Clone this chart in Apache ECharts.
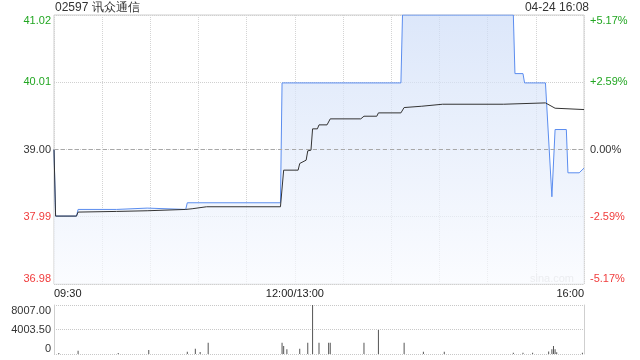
<!DOCTYPE html>
<html><head><meta charset="utf-8">
<script src="https://cdn.jsdelivr.net/npm/echarts@6/dist/echarts.min.js"></script>
<style>html,body{margin:0;padding:0;background:#fff}#c{width:640px;height:360px}</style>
</head><body><div id="c"></div>
<script>
// ---- text / tick labels ----
const titleText = '02597 讯众通信';
const stampText = '04-24 16:08';
const watermark = 'sina.com';
const prevClose = 39.00;
const priceMin = 36.98, priceMax = 41.02, priceStep = 1.01;
const priceTicks = ['36.98', '37.99', '39.00', '40.01', '41.02'];
const pctTicks = ['-5.17%', '-2.59%', '0.00%', '+2.59%', '+5.17%'];
const volMax = 8007, volStep = 4003.5;
const volTicks = ['0', '4003.50', '8007.00'];
const midLabel = '12:00/13:00';

// ---- minute categories (09:30-12:00, 13:01-16:00) ----
function pad(n){ return (n < 10 ? '0' : '') + n; }
const minutes = [];
for (let t = 9 * 60 + 30; t <= 12 * 60; t++) minutes.push(pad(Math.floor(t / 60)) + ':' + pad(t % 60));
for (let t = 13 * 60 + 1; t <= 16 * 60; t++) minutes.push(pad(Math.floor(t / 60)) + ':' + pad(t % 60));

// ---- price line ----
const priceTimes = ['09:30','09:31','09:44','09:45','10:09','10:10','10:28','10:29','10:52','10:53','11:51','11:52','14:06','14:07','15:16','15:17','15:22','15:23','15:36','15:40','15:42','15:49','15:50','15:57','16:00'];
const priceValues = [39.00,38.00,38.00,38.10,38.10,38.12,38.12,38.10,38.10,38.20,38.20,40.00,40.00,41.02,41.02,40.14,40.14,40.00,40.00,38.29,39.30,39.30,38.65,38.65,38.72];

// ---- average price line ----
const avgTimes = ['09:30','09:31','09:44','09:45','10:09','10:28','10:52','10:56','11:05','11:51','11:53','13:02','13:03','13:07','13:08','13:10','13:11','13:14','13:15','13:20','13:22','13:41','13:43','13:51','13:52','14:06','14:08','14:19','14:32','15:10','15:11','15:36','15:42','16:00'];
const avgValues = [39.00,38.00,38.00,38.06,38.07,38.08,38.10,38.11,38.14,38.14,38.69,38.69,38.79,38.84,38.98,38.99,39.31,39.31,39.37,39.37,39.46,39.46,39.50,39.50,39.55,39.55,39.63,39.65,39.68,39.68,39.70,39.70,39.62,39.60];

// ---- volume ----
const volTimes = ['09:33','09:45','10:10','10:29','10:53','10:58','11:01','11:06','11:52','11:53','11:55','13:03','13:08','13:11','13:15','13:21','13:22','13:43','13:52','14:08','14:20','14:33','15:16','15:22','15:28','15:38','15:40','15:41','15:42','15:43','15:59'];
const volValues = [150,540,150,650,380,870,320,1850,1850,1300,760,870,1850,8007,1850,1850,1850,1850,3920,1850,380,380,200,200,200,400,760,1300,760,300,200];

const zip = (a, b) => a.map((t, i) => [t, b[i]]);
const GREEN = '#22a622', RED = '#f03c3c', DARK = '#333';
const FONT = "'Liberation Sans', Arial, sans-serif";

const chart = echarts.init(document.getElementById('c'), null, {renderer: 'canvas'});
chart.setOption({
  animation: false,
  textStyle: {fontFamily: FONT},
  grid: [
    {left: 54, right: 56, top: 15, bottom: 76, show: true, borderColor: '#cfcfcf', borderWidth: 1, backgroundColor: 'transparent'},
    {left: 54, right: 56, top: 305, bottom: 6}
  ],
  graphic: [
    {type: 'text', left: 55, top: 2, style: {text: titleText, fill: DARK, font: '12px ' + FONT}},
    {type: 'text', right: 51, top: 2, style: {text: stampText, fill: DARK, font: '12px ' + FONT}},
    {type: 'text', right: 66, top: 273, style: {text: watermark, fill: '#d0d0d0', font: '11px ' + FONT}}
  ],
  xAxis: [
    {type: 'category', gridIndex: 0, data: minutes, boundaryGap: false,
     axisLine: {show: false}, axisTick: {show: false},
     axisLabel: {interval: (i) => i === 0 || i === 150 || i === minutes.length - 1,
       formatter: v => v === '12:00' ? midLabel : v, color: '#222', fontSize: 11, margin: 4,
       alignMinLabel: 'left', alignMaxLabel: 'right'},
     splitLine: {show: true, interval: (i) => i % 30 === 0, lineStyle: {color: '#d4d4d4', type: 'dotted', width: 1}}},
    {type: 'category', gridIndex: 1, data: minutes, boundaryGap: false,
     axisLine: {show: false}, axisTick: {show: false}, axisLabel: {show: false}, splitLine: {show: false}}
  ],
  yAxis: [
    {type: 'value', gridIndex: 0, min: priceMin, max: priceMax, interval: priceStep, position: 'left',
     axisLine: {show: false}, axisTick: {show: false},
     axisLabel: {fontSize: 11, margin: 3,
       formatter: (v, i) => '{c' + i + '|' + priceTicks[i] + '}',
       rich: {c0: {color: RED}, c1: {color: RED}, c2: {color: DARK}, c3: {color: GREEN}, c4: {color: GREEN}},
       verticalAlignMinLabel: 'bottom', verticalAlignMaxLabel: 'top'},
     splitLine: {show: true, lineStyle: {color: '#d0d0d0', type: 'dotted'}}},
    {type: 'value', gridIndex: 0, min: priceMin, max: priceMax, interval: priceStep, position: 'right',
     axisLine: {show: false}, axisTick: {show: false},
     axisLabel: {fontSize: 11, margin: 6,
       formatter: (v, i) => '{c' + i + '|' + pctTicks[i] + '}',
       rich: {c0: {color: RED}, c1: {color: RED}, c2: {color: DARK}, c3: {color: GREEN}, c4: {color: GREEN}},
       verticalAlignMinLabel: 'bottom', verticalAlignMaxLabel: 'top'},
     splitLine: {show: false}},
    {type: 'value', gridIndex: 1, min: 0, max: volMax, interval: volStep, position: 'left',
     axisLine: {show: true, lineStyle: {color: '#cfcfcf'}}, axisTick: {show: false},
     axisLabel: {fontSize: 11, margin: 3, color: DARK, formatter: (v, i) => volTicks[i],
       verticalAlignMinLabel: 'bottom', verticalAlignMaxLabel: 'top'},
     splitLine: {show: true, lineStyle: {color: '#c8c8c8', type: 'dotted'}}},
    {type: 'value', gridIndex: 1, min: 0, max: volMax, interval: volStep, position: 'right',
     axisLine: {show: true, lineStyle: {color: '#cfcfcf'}}, axisTick: {show: false},
     axisLabel: {show: false}, splitLine: {show: false}}
  ],
  series: [
    {type: 'line', xAxisIndex: 0, yAxisIndex: 0, data: zip(priceTimes, priceValues),
     symbol: 'none', lineStyle: {color: '#5b8def', width: 1},
     areaStyle: {origin: 'start', color: {type: 'linear', x: 0, y: 0, x2: 0, y2: 1,
       colorStops: [{offset: 0, color: '#cddcf7'}, {offset: 1, color: '#f8fafe'}]}},
     markLine: {silent: true, symbol: 'none', label: {show: false},
       lineStyle: {color: '#a8a8a8', type: [4, 3], width: 1}, data: [{yAxis: prevClose}]},
     z: 3},
    {type: 'line', xAxisIndex: 0, yAxisIndex: 0, data: zip(avgTimes, avgValues),
     symbol: 'none', lineStyle: {color: '#333', width: 1}, z: 4},
    {type: 'bar', xAxisIndex: 1, yAxisIndex: 2, data: zip(volTimes, volValues),
     barWidth: 1, itemStyle: {color: '#555'}}
  ]
});
</script>
</body></html>
